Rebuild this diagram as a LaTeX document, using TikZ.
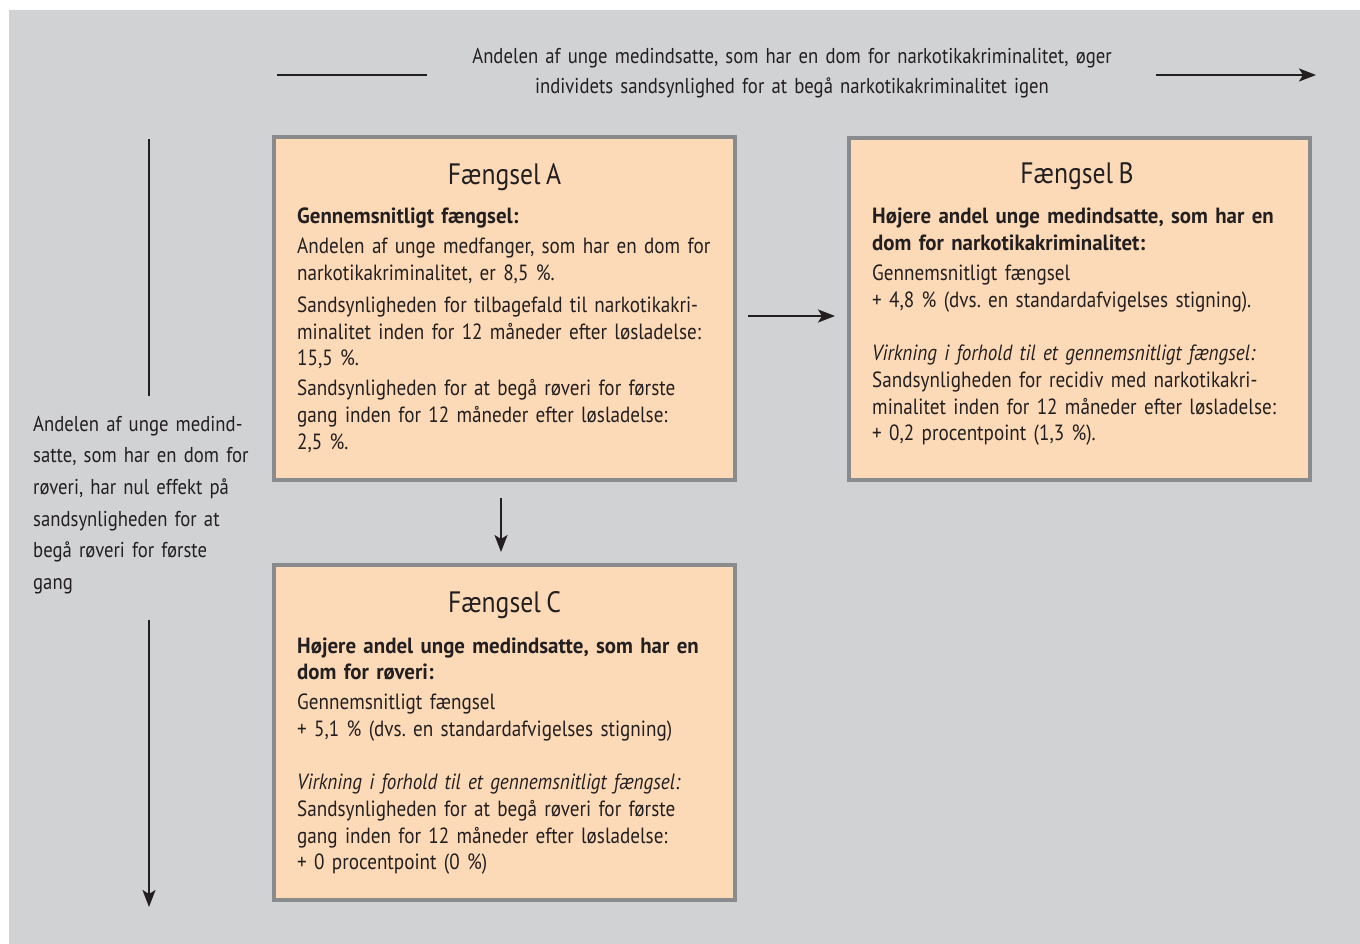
\documentclass[tikz,border=0pt]{standalone}
\usepackage{fontspec}
\setmainfont[FakeStretch=0.87, WordSpace=0.8, BoldFeatures={FakeStretch=0.95}]{PT Sans}
\usetikzlibrary{arrows.meta}
\frenchspacing
\definecolor{bggray}{HTML}{D1D2D4}
\definecolor{peach}{HTML}{FDDAB7}
\definecolor{bordergray}{HTML}{8A8B8D}
\definecolor{ink}{HTML}{231F20}
\tikzset{
  prisonbox/.style={draw=bordergray, line width=3.5pt, fill=peach, outer sep=0pt, inner sep=0pt},
  boxtitle/.style={anchor=base, inner sep=0pt, text=ink, font=\fontsize{29.5}{34}\selectfont},
  boxbody/.style={anchor=base west, inner sep=0pt, text=ink, text width=445pt, align=left, font=\fontsize{22}{26.7}\selectfont\frenchspacing},
  sidetext/.style={inner sep=0pt, text=ink, font=\fontsize{21.5}{31.7}\selectfont\frenchspacing},
  conn/.style={draw=ink, line width=1.8pt},
  arr/.style={conn, -{Stealth[length=17pt, width=13pt, inset=4pt]}}
}
\begin{document}
\begin{tikzpicture}[x=1pt, y=-1pt]
\useasboundingbox[fill=white] (0,0) rectangle (1360,944);
\fill[bggray] (9,10) rectangle (1360,944);

% top text and arrow
\node[sidetext, anchor=base, text width=700pt, align=center, font=\fontsize{21.5}{30}\selectfont] (toptext) at (792,64)
  {Andelen af unge medindsatte, som har en dom for narkotikakriminalitet, øger\\
   individets sandsynlighed for at begå narkotikakriminalitet igen};
\coordinate (tl1) at (277,75);
\coordinate (tl2) at (427,75);
\coordinate (tr1) at (1156,75);
\coordinate (tr2) at (1316,75);
\draw[conn] (tl1) -- (tl2);
\draw[arr] (tr1) -- (tr2);

% left text and arrow
\node[sidetext, anchor=base west, text width=230pt, align=left] (lefttext) at (33,431)
  {Andelen af unge medind-\\
   satte, som har en dom for\\
   røveri, har nul effekt på\\
   sandsynligheden for at\\
   begå røveri for første\\
   gang};
\coordinate (vl1) at (149,139);
\coordinate (vl2) at (149,396);
\coordinate (vr1) at (149,620);
\coordinate (vr2) at (149,907);
\draw[conn] (vl1) -- (vl2);
\draw[arr] (vr1) -- (vr2);

% boxes
\node[prisonbox, minimum width=461pt, minimum height=343pt] (boxA) at (504.5,308.5) {};
\node[prisonbox, minimum width=461pt, minimum height=342pt] (boxB) at (1079.5,309) {};
\node[prisonbox, minimum width=461pt, minimum height=335pt] (boxC) at (504.5,732.5) {};

% titles
\node[boxtitle] (tA) at (504.5,185) {Fængsel A};
\node[boxtitle] (tB) at (1077,184) {Fængsel B};
\node[boxtitle] (tC) at (504.5,612) {Fængsel C};

% bodies
\node[boxbody] (bA) at (297,224)
  {\textbf{Gennemsnitligt fængsel:}\\[3.3pt]
   Andelen af unge medfanger, som har en dom for\\
   narkotikakriminalitet, er 8,5 \%.\\[5pt]
   Sandsynligheden for tilbagefald til narkotikakri-\\
   minalitet inden for 12 måneder efter løsladelse:\\
   15,5 \%.\\[3.3pt]
   Sandsynligheden for at begå røveri for første\\
   gang inden for 12 måneder efter løsladelse:\\
   2,5 \%.};

\node[boxbody] (bB) at (872,224)
  {\textbf{Højere andel unge medindsatte, som har en}\\
   \textbf{dom for narkotikakriminalitet:}\\[3.3pt]
   Gennemsnitligt fængsel\\
   + 4,8 \% (dvs. en standardafvigelses stigning).\\[26.7pt]
   \textit{Virkning i forhold til et gennemsnitligt fængsel:}\\
   Sandsynligheden for recidiv med narkotikakri-\\
   minalitet inden for 12 måneder efter løsladelse:\\
   + 0,2 procentpoint (1,3 \%).};

\node[boxbody] (bC) at (297,653)
  {\textbf{Højere andel unge medindsatte, som har en}\\
   \textbf{dom for røveri:}\\[3.3pt]
   Gennemsnitligt fængsel\\
   + 5,1 \% (dvs. en standardafvigelses stigning)\\[26.7pt]
   \textit{Virkning i forhold til et gennemsnitligt fængsel:}\\
   Sandsynligheden for at begå røveri for første\\
   gang inden for 12 måneder efter løsladelse:\\
   + 0 procentpoint (0 \%)};

% connectors between boxes
\draw[arr] ([xshift=13pt,yshift=-7.5pt]boxA.east) -- ([xshift=-14pt,yshift=-7pt]boxB.west);
\draw[arr] ([xshift=-3.5pt,yshift=-18pt]boxA.south) -- ([xshift=-3.5pt,yshift=13pt]boxC.north);
\end{tikzpicture}
\end{document}
